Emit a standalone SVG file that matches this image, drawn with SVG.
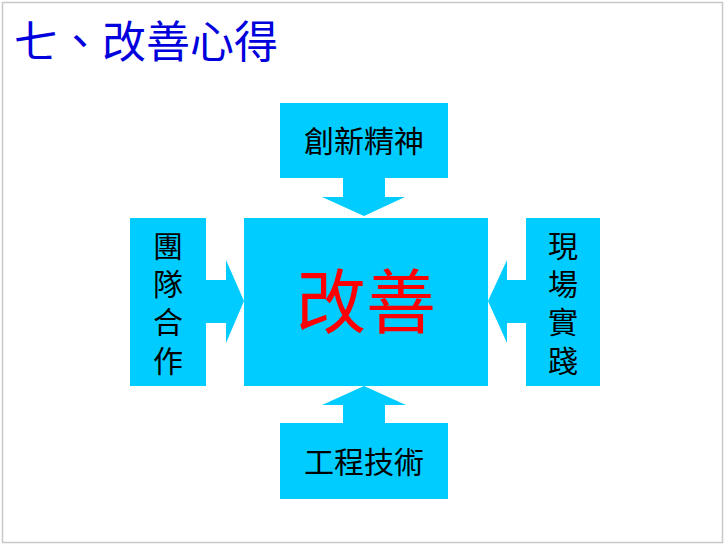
<svg xmlns="http://www.w3.org/2000/svg" width="725" height="545" viewBox="0 0 725 545">
<style>
.box{fill:#00CCFF}
.arr{fill:#00CCFF}
.lbl{font-family:"Liberation Serif","Noto Sans CJK TC",serif;fill:#000;font-size:30px;text-anchor:middle}
.title{font-family:"Liberation Serif","Noto Sans CJK TC",serif;fill:#0000DD;font-size:44px}
.main{font-family:"Liberation Serif","Noto Sans CJK TC",serif;fill:#FF0000;font-size:70px;text-anchor:middle}
</style>
<rect x="0" y="0" width="725" height="545" fill="#fff"/>
<rect x="2.5" y="2.5" width="720" height="540" fill="none" stroke="#c8c8c8" stroke-width="1.5"/>
<text class="title" x="14" y="58">七、改善心得</text>
<g id="connectors">
<polygon class="arr" points="343,178 385,178 385,197 405,197 364,216 322,197 343,197"/>
<polygon class="arr" points="343,423 385,423 385,405 406,405 364,386 322,405 343,405"/>
<polygon class="arr" points="206,280 226,280 226,260 244,301 226,343 226,323 206,323"/>
<polygon class="arr" points="526,280 507,280 507,260 488,301 507,343 507,323 526,323"/>
</g>
<g id="node-center">
<rect class="box" x="244" y="218" width="244" height="168"/>
<text class="main" x="366" y="328">改善</text>
</g>
<g id="node-top">
<rect class="box" x="280" y="103" width="168" height="75"/>
<text class="lbl" x="364" y="152">創新精神</text>
</g>
<g id="node-bottom">
<rect class="box" x="280" y="423" width="168" height="76"/>
<text class="lbl" x="364" y="473">工程技術</text>
</g>
<g id="node-left">
<rect class="box" x="130" y="218" width="76" height="168"/>
<text class="lbl" x="168" y="257">團</text>
<text class="lbl" x="168" y="295">隊</text>
<text class="lbl" x="168" y="333">合</text>
<text class="lbl" x="168" y="372">作</text>
</g>
<g id="node-right">
<rect class="box" x="526" y="218" width="74" height="168"/>
<text class="lbl" x="563" y="257">現</text>
<text class="lbl" x="563" y="295">場</text>
<text class="lbl" x="563" y="333">實</text>
<text class="lbl" x="563" y="372">踐</text>
</g>
</svg>
